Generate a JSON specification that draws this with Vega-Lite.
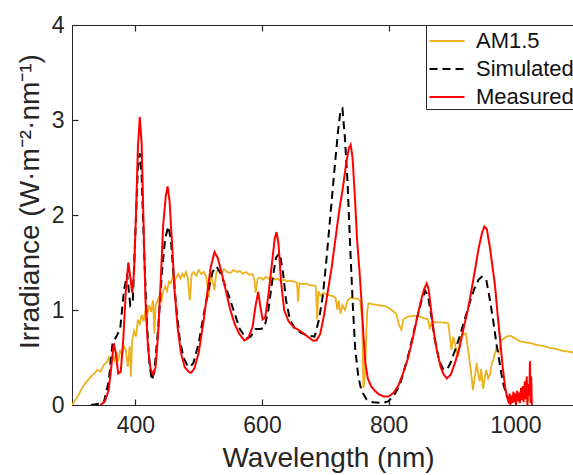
{
"$schema": "https://vega.github.io/schema/vega-lite/v6.json",
"width": 501, "height": 380,
"autosize": "none",
"padding": {"left": 72, "top": 25, "right": 0, "bottom": 70},
"background": "white",
"config": {
  "view": {"stroke": null},
  "font": "Liberation Sans",
  "axis": {"grid": false, "domainColor": "#262626", "domainWidth": 1, "tickColor": "#262626", "tickWidth": 1.2, "tickSize": -6, "labelColor": "#262626", "labelFont": "Liberation Sans", "labelFontSize": 23, "titleFont": "Liberation Sans", "titleFontSize": 28, "titleFontWeight": "normal", "titleColor": "#262626"},
  "legend": {"orient": "none", "legendX": 354, "legendY": 0, "strokeColor": "#262626", "fillColor": "white", "padding": 1, "rowPadding": 2, "symbolType": "M-1.25,0L1.25,0", "symbolSize": 784, "symbolOffset": 5, "symbolStrokeWidth": 2, "labelFont": "Liberation Sans", "labelFontSize": 22, "labelColor": "#111111", "labelOffset": 14, "title": null, "cornerRadius": 0}
},
"data": {"values": [
{"s":"AM1.5","w":300,"v":0.0},{"s":"AM1.5","w":305,"v":0.05},{"s":"AM1.5","w":310,"v":0.1},{"s":"AM1.5","w":315,"v":0.17},{"s":"AM1.5","w":320,"v":0.22},{"s":"AM1.5","w":325,"v":0.26},{"s":"AM1.5","w":330,"v":0.3},{"s":"AM1.5","w":335,"v":0.33},{"s":"AM1.5","w":340,"v":0.37},{"s":"AM1.5","w":345,"v":0.35},{"s":"AM1.5","w":350,"v":0.42},{"s":"AM1.5","w":355,"v":0.45},{"s":"AM1.5","w":358,"v":0.5},{"s":"AM1.5","w":361,"v":0.42},{"s":"AM1.5","w":364,"v":0.52},{"s":"AM1.5","w":367,"v":0.47},{"s":"AM1.5","w":370,"v":0.56},{"s":"AM1.5","w":373,"v":0.46},{"s":"AM1.5","w":376,"v":0.58},{"s":"AM1.5","w":379,"v":0.52},{"s":"AM1.5","w":382,"v":0.62},{"s":"AM1.5","w":385,"v":0.58},{"s":"AM1.5","w":388,"v":0.4},{"s":"AM1.5","w":391,"v":0.62},{"s":"AM1.5","w":393,"v":0.3},{"s":"AM1.5","w":395,"v":0.68},{"s":"AM1.5","w":398,"v":0.78},{"s":"AM1.5","w":401,"v":0.72},{"s":"AM1.5","w":404,"v":0.9},{"s":"AM1.5","w":407,"v":0.85},{"s":"AM1.5","w":410,"v":0.95},{"s":"AM1.5","w":413,"v":0.88},{"s":"AM1.5","w":416,"v":1.0},{"s":"AM1.5","w":419,"v":0.95},{"s":"AM1.5","w":422,"v":1.05},{"s":"AM1.5","w":425,"v":0.98},{"s":"AM1.5","w":428,"v":1.1},{"s":"AM1.5","w":430,"v":0.75},{"s":"AM1.5","w":432,"v":1.05},{"s":"AM1.5","w":435,"v":1.1},{"s":"AM1.5","w":438,"v":1.15},{"s":"AM1.5","w":441,"v":1.08},{"s":"AM1.5","w":444,"v":1.2},{"s":"AM1.5","w":447,"v":1.25},{"s":"AM1.5","w":450,"v":1.2},{"s":"AM1.5","w":453,"v":1.3},{"s":"AM1.5","w":456,"v":1.28},{"s":"AM1.5","w":459,"v":1.35},{"s":"AM1.5","w":462,"v":1.3},{"s":"AM1.5","w":465,"v":1.35},{"s":"AM1.5","w":468,"v":1.38},{"s":"AM1.5","w":471,"v":1.33},{"s":"AM1.5","w":474,"v":1.38},{"s":"AM1.5","w":477,"v":1.35},{"s":"AM1.5","w":480,"v":1.4},{"s":"AM1.5","w":483,"v":1.33},{"s":"AM1.5","w":486,"v":1.1},{"s":"AM1.5","w":489,"v":1.38},{"s":"AM1.5","w":492,"v":1.4},{"s":"AM1.5","w":496,"v":1.36},{"s":"AM1.5","w":500,"v":1.42},{"s":"AM1.5","w":504,"v":1.38},{"s":"AM1.5","w":508,"v":1.4},{"s":"AM1.5","w":512,"v":1.35},{"s":"AM1.5","w":516,"v":1.13},{"s":"AM1.5","w":519,"v":1.38},{"s":"AM1.5","w":522,"v":1.3},{"s":"AM1.5","w":525,"v":1.21},{"s":"AM1.5","w":528,"v":1.4},{"s":"AM1.5","w":532,"v":1.42},{"s":"AM1.5","w":536,"v":1.38},{"s":"AM1.5","w":540,"v":1.43},{"s":"AM1.5","w":545,"v":1.4},{"s":"AM1.5","w":550,"v":1.39},{"s":"AM1.5","w":555,"v":1.42},{"s":"AM1.5","w":560,"v":1.4},{"s":"AM1.5","w":565,"v":1.41},{"s":"AM1.5","w":570,"v":1.38},{"s":"AM1.5","w":575,"v":1.4},{"s":"AM1.5","w":580,"v":1.37},{"s":"AM1.5","w":585,"v":1.38},{"s":"AM1.5","w":588,"v":1.32},{"s":"AM1.5","w":590,"v":1.18},{"s":"AM1.5","w":593,"v":1.33},{"s":"AM1.5","w":598,"v":1.34},{"s":"AM1.5","w":602,"v":1.32},{"s":"AM1.5","w":606,"v":1.35},{"s":"AM1.5","w":610,"v":1.33},{"s":"AM1.5","w":615,"v":1.35},{"s":"AM1.5","w":620,"v":1.32},{"s":"AM1.5","w":625,"v":1.33},{"s":"AM1.5","w":630,"v":1.3},{"s":"AM1.5","w":635,"v":1.32},{"s":"AM1.5","w":640,"v":1.3},{"s":"AM1.5","w":645,"v":1.31},{"s":"AM1.5","w":650,"v":1.3},{"s":"AM1.5","w":655,"v":1.29},{"s":"AM1.5","w":657,"v":1.09},{"s":"AM1.5","w":659,"v":1.28},{"s":"AM1.5","w":665,"v":1.27},{"s":"AM1.5","w":670,"v":1.28},{"s":"AM1.5","w":675,"v":1.26},{"s":"AM1.5","w":680,"v":1.26},{"s":"AM1.5","w":685,"v":1.25},{"s":"AM1.5","w":687,"v":0.9},{"s":"AM1.5","w":689,"v":1.2},{"s":"AM1.5","w":692,"v":1.15},{"s":"AM1.5","w":697,"v":1.18},{"s":"AM1.5","w":703,"v":1.16},{"s":"AM1.5","w":710,"v":1.15},{"s":"AM1.5","w":716,"v":1.13},{"s":"AM1.5","w":719,"v":1.0},{"s":"AM1.5","w":721,"v":1.1},{"s":"AM1.5","w":724,"v":0.96},{"s":"AM1.5","w":727,"v":1.05},{"s":"AM1.5","w":731,"v":1.0},{"s":"AM1.5","w":735,"v":1.1},{"s":"AM1.5","w":740,"v":1.13},{"s":"AM1.5","w":745,"v":1.12},{"s":"AM1.5","w":750,"v":1.12},{"s":"AM1.5","w":755,"v":1.1},{"s":"AM1.5","w":758,"v":0.9},{"s":"AM1.5","w":760,"v":0.18},{"s":"AM1.5","w":762,"v":0.25},{"s":"AM1.5","w":764,"v":0.6},{"s":"AM1.5","w":766,"v":0.98},{"s":"AM1.5","w":768,"v":1.07},{"s":"AM1.5","w":775,"v":1.06},{"s":"AM1.5","w":785,"v":1.05},{"s":"AM1.5","w":795,"v":1.04},{"s":"AM1.5","w":805,"v":1.0},{"s":"AM1.5","w":812,"v":0.96},{"s":"AM1.5","w":816,"v":0.85},{"s":"AM1.5","w":820,"v":0.79},{"s":"AM1.5","w":823,"v":0.9},{"s":"AM1.5","w":830,"v":0.93},{"s":"AM1.5","w":840,"v":0.94},{"s":"AM1.5","w":849,"v":0.93},{"s":"AM1.5","w":858,"v":0.91},{"s":"AM1.5","w":862,"v":0.9},{"s":"AM1.5","w":865,"v":0.8},{"s":"AM1.5","w":868,"v":0.88},{"s":"AM1.5","w":875,"v":0.87},{"s":"AM1.5","w":885,"v":0.87},{"s":"AM1.5","w":894,"v":0.86},{"s":"AM1.5","w":897,"v":0.7},{"s":"AM1.5","w":899,"v":0.58},{"s":"AM1.5","w":902,"v":0.72},{"s":"AM1.5","w":906,"v":0.6},{"s":"AM1.5","w":910,"v":0.51},{"s":"AM1.5","w":913,"v":0.7},{"s":"AM1.5","w":917,"v":0.75},{"s":"AM1.5","w":922,"v":0.75},{"s":"AM1.5","w":926,"v":0.55},{"s":"AM1.5","w":930,"v":0.35},{"s":"AM1.5","w":933,"v":0.16},{"s":"AM1.5","w":936,"v":0.3},{"s":"AM1.5","w":939,"v":0.44},{"s":"AM1.5","w":942,"v":0.3},{"s":"AM1.5","w":944,"v":0.25},{"s":"AM1.5","w":946,"v":0.38},{"s":"AM1.5","w":949,"v":0.17},{"s":"AM1.5","w":952,"v":0.3},{"s":"AM1.5","w":954,"v":0.37},{"s":"AM1.5","w":957,"v":0.28},{"s":"AM1.5","w":960,"v":0.32},{"s":"AM1.5","w":963,"v":0.45},{"s":"AM1.5","w":965,"v":0.47},{"s":"AM1.5","w":968,"v":0.55},{"s":"AM1.5","w":970,"v":0.61},{"s":"AM1.5","w":974,"v":0.55},{"s":"AM1.5","w":978,"v":0.68},{"s":"AM1.5","w":982,"v":0.7},{"s":"AM1.5","w":986,"v":0.72},{"s":"AM1.5","w":992,"v":0.73},{"s":"AM1.5","w":1000,"v":0.7},{"s":"AM1.5","w":1007,"v":0.67},{"s":"AM1.5","w":1015,"v":0.66},{"s":"AM1.5","w":1025,"v":0.65},{"s":"AM1.5","w":1035,"v":0.63},{"s":"AM1.5","w":1045,"v":0.62},{"s":"AM1.5","w":1055,"v":0.6},{"s":"AM1.5","w":1065,"v":0.59},{"s":"AM1.5","w":1075,"v":0.57},{"s":"AM1.5","w":1085,"v":0.56},{"s":"AM1.5","w":1095,"v":0.55},
{"s":"Simulated","w":330,"v":0.0},{"s":"Simulated","w":350,"v":0.02},{"s":"Simulated","w":358,"v":0.25},{"s":"Simulated","w":364,"v":0.65},{"s":"Simulated","w":370,"v":0.72},{"s":"Simulated","w":376,"v":0.8},{"s":"Simulated","w":382,"v":1.2},{"s":"Simulated","w":387,"v":1.38},{"s":"Simulated","w":392,"v":1.05},{"s":"Simulated","w":396,"v":1.1},{"s":"Simulated","w":400,"v":1.8},{"s":"Simulated","w":404,"v":2.5},{"s":"Simulated","w":407,"v":2.65},{"s":"Simulated","w":410,"v":2.4},{"s":"Simulated","w":414,"v":1.6},{"s":"Simulated","w":418,"v":0.9},{"s":"Simulated","w":422,"v":0.45},{"s":"Simulated","w":426,"v":0.26},{"s":"Simulated","w":430,"v":0.35},{"s":"Simulated","w":436,"v":0.8},{"s":"Simulated","w":442,"v":1.4},{"s":"Simulated","w":447,"v":1.75},{"s":"Simulated","w":452,"v":1.88},{"s":"Simulated","w":456,"v":1.75},{"s":"Simulated","w":460,"v":1.4},{"s":"Simulated","w":465,"v":1.0},{"s":"Simulated","w":470,"v":0.7},{"s":"Simulated","w":476,"v":0.5},{"s":"Simulated","w":482,"v":0.42},{"s":"Simulated","w":487,"v":0.4},{"s":"Simulated","w":492,"v":0.45},{"s":"Simulated","w":500,"v":0.65},{"s":"Simulated","w":508,"v":0.95},{"s":"Simulated","w":515,"v":1.2},{"s":"Simulated","w":522,"v":1.4},{"s":"Simulated","w":528,"v":1.46},{"s":"Simulated","w":535,"v":1.38},{"s":"Simulated","w":545,"v":1.2},{"s":"Simulated","w":555,"v":1.0},{"s":"Simulated","w":565,"v":0.8},{"s":"Simulated","w":575,"v":0.7},{"s":"Simulated","w":582,"v":0.72},{"s":"Simulated","w":590,"v":0.8},{"s":"Simulated","w":598,"v":0.8},{"s":"Simulated","w":604,"v":0.82},{"s":"Simulated","w":610,"v":1.0},{"s":"Simulated","w":616,"v":1.3},{"s":"Simulated","w":622,"v":1.55},{"s":"Simulated","w":628,"v":1.6},{"s":"Simulated","w":633,"v":1.4},{"s":"Simulated","w":638,"v":1.1},{"s":"Simulated","w":644,"v":0.9},{"s":"Simulated","w":652,"v":0.8},{"s":"Simulated","w":662,"v":0.76},{"s":"Simulated","w":672,"v":0.73},{"s":"Simulated","w":683,"v":0.72},{"s":"Simulated","w":690,"v":0.9},{"s":"Simulated","w":696,"v":1.15},{"s":"Simulated","w":702,"v":1.55},{"s":"Simulated","w":708,"v":2.0},{"s":"Simulated","w":714,"v":2.45},{"s":"Simulated","w":720,"v":2.88},{"s":"Simulated","w":724,"v":3.1},{"s":"Simulated","w":727,"v":3.12},{"s":"Simulated","w":731,"v":2.8},{"s":"Simulated","w":735,"v":2.35},{"s":"Simulated","w":739,"v":1.7},{"s":"Simulated","w":743,"v":1.1},{"s":"Simulated","w":747,"v":0.6},{"s":"Simulated","w":752,"v":0.3},{"s":"Simulated","w":757,"v":0.15},{"s":"Simulated","w":765,"v":0.06},{"s":"Simulated","w":775,"v":0.03},{"s":"Simulated","w":790,"v":0.02},{"s":"Simulated","w":800,"v":0.04},{"s":"Simulated","w":810,"v":0.12},{"s":"Simulated","w":818,"v":0.22},{"s":"Simulated","w":825,"v":0.38},{"s":"Simulated","w":832,"v":0.55},{"s":"Simulated","w":840,"v":0.78},{"s":"Simulated","w":846,"v":0.95},{"s":"Simulated","w":852,"v":1.1},{"s":"Simulated","w":858,"v":1.2},{"s":"Simulated","w":862,"v":1.15},{"s":"Simulated","w":867,"v":0.95},{"s":"Simulated","w":873,"v":0.68},{"s":"Simulated","w":880,"v":0.46},{"s":"Simulated","w":886,"v":0.38},{"s":"Simulated","w":892,"v":0.37},{"s":"Simulated","w":898,"v":0.45},{"s":"Simulated","w":905,"v":0.58},{"s":"Simulated","w":912,"v":0.72},{"s":"Simulated","w":920,"v":0.9},{"s":"Simulated","w":928,"v":1.08},{"s":"Simulated","w":935,"v":1.22},{"s":"Simulated","w":942,"v":1.32},{"s":"Simulated","w":947,"v":1.35},{"s":"Simulated","w":954,"v":1.32},{"s":"Simulated","w":960,"v":1.1},{"s":"Simulated","w":965,"v":0.89},{"s":"Simulated","w":970,"v":0.65},{"s":"Simulated","w":975,"v":0.45},{"s":"Simulated","w":980,"v":0.25},{"s":"Simulated","w":986,"v":0.1},{"s":"Simulated","w":995,"v":0.02},
{"s":"Measured","w":345,"v":0.0},{"s":"Measured","w":352,"v":0.04},{"s":"Measured","w":358,"v":0.16},{"s":"Measured","w":362,"v":0.4},{"s":"Measured","w":366,"v":0.65},{"s":"Measured","w":369,"v":0.55},{"s":"Measured","w":373,"v":0.33},{"s":"Measured","w":377,"v":0.35},{"s":"Measured","w":381,"v":0.7},{"s":"Measured","w":385,"v":1.2},{"s":"Measured","w":389,"v":1.5},{"s":"Measured","w":392,"v":1.35},{"s":"Measured","w":395,"v":1.18},{"s":"Measured","w":398,"v":1.4},{"s":"Measured","w":401,"v":2.0},{"s":"Measured","w":404,"v":2.7},{"s":"Measured","w":407,"v":3.03},{"s":"Measured","w":410,"v":2.75},{"s":"Measured","w":413,"v":1.9},{"s":"Measured","w":416,"v":1.1},{"s":"Measured","w":420,"v":0.6},{"s":"Measured","w":424,"v":0.38},{"s":"Measured","w":428,"v":0.32},{"s":"Measured","w":432,"v":0.4},{"s":"Measured","w":436,"v":0.75},{"s":"Measured","w":440,"v":1.3},{"s":"Measured","w":444,"v":1.9},{"s":"Measured","w":448,"v":2.2},{"s":"Measured","w":451,"v":2.3},{"s":"Measured","w":454,"v":2.15},{"s":"Measured","w":458,"v":1.7},{"s":"Measured","w":462,"v":1.2},{"s":"Measured","w":467,"v":0.8},{"s":"Measured","w":472,"v":0.55},{"s":"Measured","w":478,"v":0.4},{"s":"Measured","w":484,"v":0.35},{"s":"Measured","w":488,"v":0.34},{"s":"Measured","w":493,"v":0.38},{"s":"Measured","w":500,"v":0.55},{"s":"Measured","w":507,"v":0.85},{"s":"Measured","w":513,"v":1.15},{"s":"Measured","w":519,"v":1.45},{"s":"Measured","w":525,"v":1.61},{"s":"Measured","w":530,"v":1.55},{"s":"Measured","w":536,"v":1.4},{"s":"Measured","w":543,"v":1.2},{"s":"Measured","w":550,"v":1.0},{"s":"Measured","w":557,"v":0.85},{"s":"Measured","w":564,"v":0.75},{"s":"Measured","w":572,"v":0.68},{"s":"Measured","w":578,"v":0.7},{"s":"Measured","w":585,"v":0.82},{"s":"Measured","w":590,"v":1.05},{"s":"Measured","w":594,"v":1.19},{"s":"Measured","w":597,"v":1.05},{"s":"Measured","w":601,"v":0.9},{"s":"Measured","w":605,"v":0.92},{"s":"Measured","w":610,"v":1.15},{"s":"Measured","w":615,"v":1.45},{"s":"Measured","w":620,"v":1.75},{"s":"Measured","w":623,"v":1.82},{"s":"Measured","w":626,"v":1.7},{"s":"Measured","w":630,"v":1.3},{"s":"Measured","w":635,"v":1.0},{"s":"Measured","w":642,"v":0.88},{"s":"Measured","w":650,"v":0.82},{"s":"Measured","w":660,"v":0.78},{"s":"Measured","w":670,"v":0.73},{"s":"Measured","w":680,"v":0.68},{"s":"Measured","w":686,"v":0.68},{"s":"Measured","w":692,"v":0.75},{"s":"Measured","w":698,"v":0.95},{"s":"Measured","w":704,"v":1.2},{"s":"Measured","w":710,"v":1.45},{"s":"Measured","w":716,"v":1.75},{"s":"Measured","w":722,"v":2.05},{"s":"Measured","w":728,"v":2.3},{"s":"Measured","w":733,"v":2.55},{"s":"Measured","w":737,"v":2.7},{"s":"Measured","w":740,"v":2.74},{"s":"Measured","w":743,"v":2.6},{"s":"Measured","w":747,"v":2.15},{"s":"Measured","w":750,"v":1.75},{"s":"Measured","w":754,"v":1.4},{"s":"Measured","w":757,"v":1.1},{"s":"Measured","w":760,"v":0.75},{"s":"Measured","w":763,"v":0.45},{"s":"Measured","w":767,"v":0.28},{"s":"Measured","w":772,"v":0.2},{"s":"Measured","w":778,"v":0.15},{"s":"Measured","w":785,"v":0.11},{"s":"Measured","w":792,"v":0.09},{"s":"Measured","w":800,"v":0.09},{"s":"Measured","w":808,"v":0.13},{"s":"Measured","w":815,"v":0.2},{"s":"Measured","w":822,"v":0.32},{"s":"Measured","w":830,"v":0.48},{"s":"Measured","w":838,"v":0.7},{"s":"Measured","w":845,"v":0.92},{"s":"Measured","w":851,"v":1.1},{"s":"Measured","w":856,"v":1.22},{"s":"Measured","w":860,"v":1.28},{"s":"Measured","w":863,"v":1.22},{"s":"Measured","w":867,"v":1.0},{"s":"Measured","w":871,"v":0.78},{"s":"Measured","w":876,"v":0.58},{"s":"Measured","w":882,"v":0.4},{"s":"Measured","w":887,"v":0.32},{"s":"Measured","w":892,"v":0.28},{"s":"Measured","w":898,"v":0.32},{"s":"Measured","w":905,"v":0.45},{"s":"Measured","w":912,"v":0.61},{"s":"Measured","w":918,"v":0.8},{"s":"Measured","w":925,"v":1.0},{"s":"Measured","w":931,"v":1.22},{"s":"Measured","w":937,"v":1.45},{"s":"Measured","w":942,"v":1.65},{"s":"Measured","w":947,"v":1.8},{"s":"Measured","w":951,"v":1.88},{"s":"Measured","w":955,"v":1.85},{"s":"Measured","w":960,"v":1.65},{"s":"Measured","w":964,"v":1.45},{"s":"Measured","w":968,"v":1.25},{"s":"Measured","w":972,"v":0.95},{"s":"Measured","w":976,"v":0.68},{"s":"Measured","w":980,"v":0.4},{"s":"Measured","w":984,"v":0.18},{"s":"Measured","w":987,"v":0.08},{"s":"Measured","w":990,"v":0.02},{"s":"Measured","w":991,"v":0.12},{"s":"Measured","w":992,"v":0.0},{"s":"Measured","w":994,"v":0.1},{"s":"Measured","w":995,"v":0.02},{"s":"Measured","w":997,"v":0.14},{"s":"Measured","w":998,"v":0.03},{"s":"Measured","w":1000,"v":0.12},{"s":"Measured","w":1001,"v":0.0},{"s":"Measured","w":1003,"v":0.15},{"s":"Measured","w":1004,"v":0.04},{"s":"Measured","w":1006,"v":0.13},{"s":"Measured","w":1007,"v":0.02},{"s":"Measured","w":1009,"v":0.18},{"s":"Measured","w":1010,"v":0.05},{"s":"Measured","w":1012,"v":0.2},{"s":"Measured","w":1013,"v":0.03},{"s":"Measured","w":1015,"v":0.25},{"s":"Measured","w":1016,"v":0.06},{"s":"Measured","w":1018,"v":0.3},{"s":"Measured","w":1019,"v":0.0},{"s":"Measured","w":1021,"v":0.22},{"s":"Measured","w":1022,"v":0.1},{"s":"Measured","w":1023,"v":0.46},{"s":"Measured","w":1024,"v":0.02},{"s":"Measured","w":1025,"v":0.3},{"s":"Measured","w":1026,"v":0.0}
]},
"encoding": {
  "y": {"field": "v", "type": "quantitative", "scale": {"domain": [0, 4]}, "axis": {"values": [0, 1, 2, 3, 4], "format": "d", "labelPadding": 14, "title": "Irradiance (W·m⁻²·nm⁻¹)", "titleX": -34, "titleY": 176, "titleAngle": 270, "titleAlign": "center", "titleBaseline": "alphabetic"}},
  "color": {"field": "s", "type": "nominal", "scale": {"domain": ["AM1.5", "Simulated", "Measured"], "range": ["#EDB120", "#000000", "#FF0000"]}},
  "strokeDash": {"field": "s", "type": "nominal", "scale": {"domain": ["AM1.5", "Simulated", "Measured"], "range": [[1, 0], [8, 5], [1, 0]]}}
},
"resolve": {"axis": {"x": "independent"}},
"layer": [
  {"transform": [{"filter": "datum.s == 'AM1.5'"}],
   "mark": {"type": "line", "strokeWidth": 1.8, "clip": true},
   "encoding": {"x": {"field": "w", "type": "quantitative", "scale": {"domain": [300, 1091], "nice": false}, "axis": {"values": [400, 600, 800, 1000], "format": "d", "labelPadding": 15, "title": "Wavelength (nm)", "titleX": 256, "titleY": 61, "titleAlign": "center", "titleBaseline": "alphabetic"}}}},
  {"transform": [{"filter": "datum.s == 'Simulated'"}],
   "mark": {"type": "line", "strokeWidth": 2, "clip": true},
   "encoding": {"x": {"field": "w", "type": "quantitative", "scale": {"domain": [300, 1091], "nice": false}, "axis": {"orient": "top", "values": [400, 600, 800, 1000], "labels": false, "title": null}}}},
  {"transform": [{"filter": "datum.s == 'Measured'"}],
   "mark": {"type": "line", "strokeWidth": 2, "clip": true},
   "encoding": {"x": {"field": "w", "type": "quantitative", "scale": {"domain": [300, 1091], "nice": false}, "axis": null}}}
]
}
